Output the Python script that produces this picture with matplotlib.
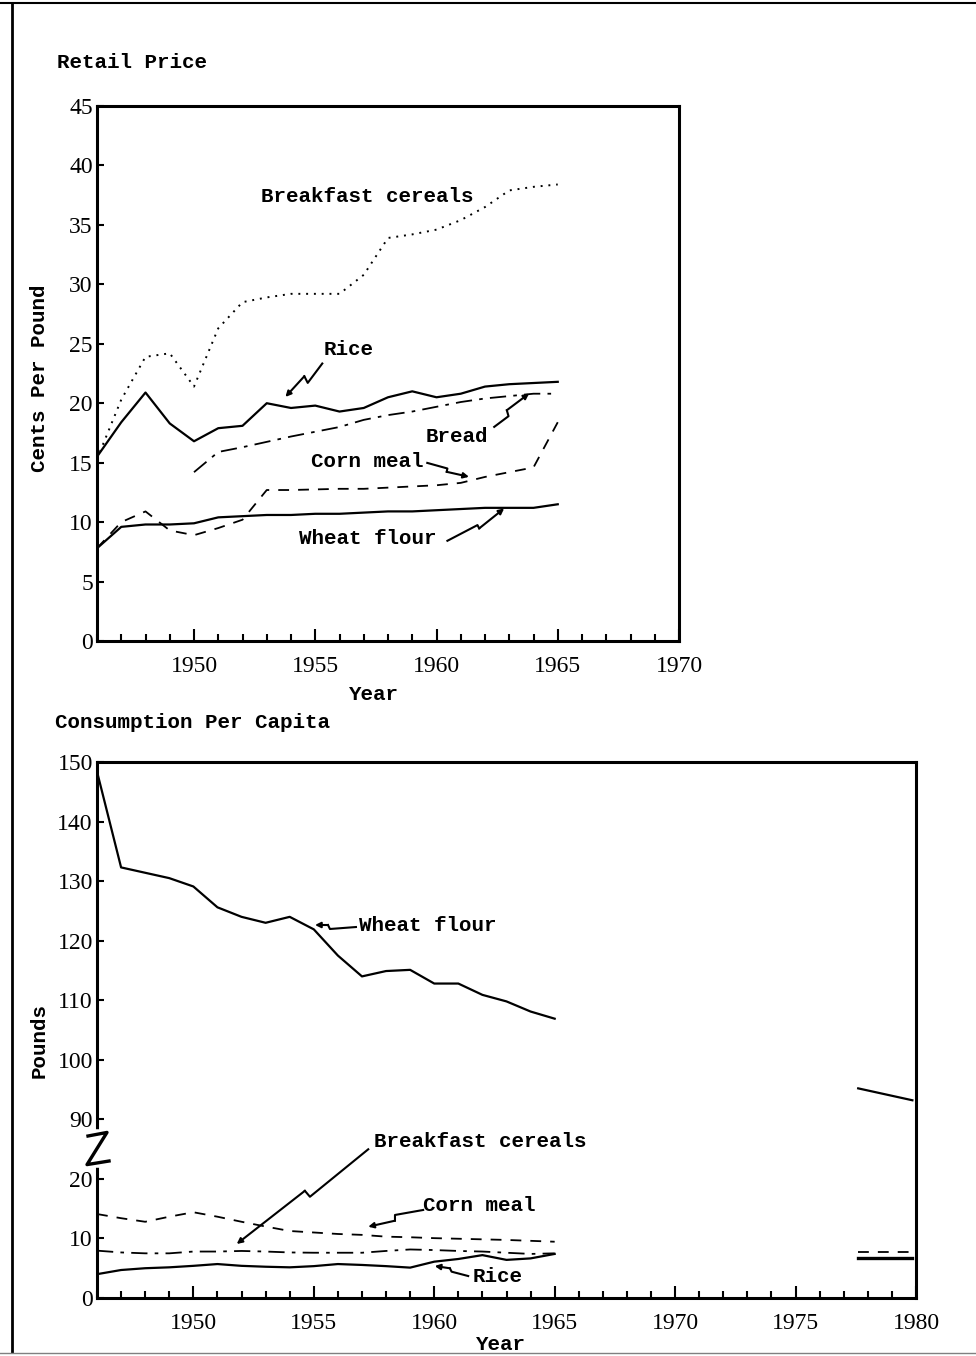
import matplotlib

matplotlib.use("Agg")
import matplotlib.pyplot as plt
import matplotlib.transforms as mtransforms
from matplotlib.lines import Line2D
from matplotlib.ticker import MultipleLocator, FixedLocator

W, H = 976, 1356
plt.rcParams["font.family"] = ["Liberation Serif", "DejaVu Serif"]
LABEL_FONT = dict(family=["Liberation Mono", "DejaVu Sans Mono"], fontweight="bold", fontsize=15)

# Retail price, cents per pound
PRICE_YEARS = list(range(1946, 1966))
PRICE_CEREALS = [15.3, 20.3, 23.9, 24.2, 21.4, 26.3, 28.5, 28.9, 29.2, 29.2,
                 29.2, 30.8, 33.9, 34.2, 34.6, 35.4, 36.5, 37.9, 38.2, 38.4]
PRICE_RICE = [15.5, 18.4, 20.9, 18.3, 16.8, 17.9, 18.1, 20.0, 19.6, 19.8,
              19.3, 19.6, 20.5, 21.0, 20.5, 20.8, 21.4, 21.6, 21.7, 21.8]
PRICE_CORN = [7.8, 10.0, 10.9, 9.3, 8.9, 9.5, 10.2, 12.7, 12.7, 12.75,
              12.8, 12.8, 12.9, 13.0, 13.1, 13.3, 13.8, 14.2, 14.6, 18.4]
PRICE_WHEAT = [7.8, 9.6, 9.8, 9.8, 9.9, 10.4, 10.5, 10.6, 10.6, 10.7,
               10.7, 10.8, 10.9, 10.9, 11.0, 11.1, 11.2, 11.2, 11.2, 11.5]
BREAD_YEARS = list(range(1950, 1966))
PRICE_BREAD = [14.2, 15.9, 16.3, 16.75, 17.2, 17.6, 18.0, 18.6, 19.0, 19.3,
               19.7, 20.1, 20.4, 20.6, 20.8, 20.8]

# Consumption per capita, pounds
CONS_YEARS = list(range(1946, 1966))
CONS_WHEAT = [148.4, 132.3, 131.4, 130.5, 129.1, 125.6, 124.0, 123.0, 124.0, 121.9,
              117.5, 114.0, 114.9, 115.1, 112.8, 112.8, 110.9, 109.8, 108.1, 106.9]
CONS_CORN = [14.1, 13.4, 12.8, 13.65, 14.4, 13.65, 12.8, 12.0, 11.25, 11.0,
             10.75, 10.6, 10.3, 10.2, 10.05, 9.95, 9.85, 9.75, 9.6, 9.45]
CONS_CEREALS = [7.95, 7.65, 7.5, 7.5, 7.8, 7.8, 7.9, 7.8, 7.65, 7.6,
                7.6, 7.6, 7.9, 8.15, 8.05, 7.9, 7.8, 7.6, 7.4, 7.5]
CONS_RICE = [4.0, 4.7, 5.0, 5.15, 5.4, 5.7, 5.4, 5.25, 5.15, 5.35,
             5.7, 5.55, 5.35, 5.1, 6.1, 6.55, 7.2, 6.4, 6.65, 7.4]
PROJ_YEARS = [1977.6, 1979.85]
PROJ_WHEAT = [95.2, 93.2]
PROJ_CORN = [7.7, 7.7]
PROJ_RICE = [6.7, 6.7]

CONS_TICKS = [0, 10, 20, 90, 100, 110, 120, 130, 140, 150]
CUT = 60  # pounds removed by the axis break (20 -> 90 shown as 20 -> 30)


def broken(values):
    return [v - CUT if v > 50 else v for v in values]


# label text position (year, value) and lightning leader (years, values)
PRICE_NOTES = [
    ("Breakfast cereals", 1957.16, 37.4, None),
    ("Rice", 1956.37, 24.5, ([1955.29, 1954.69, 1954.55, 1953.77], [23.34, 21.71, 22.27, 20.53])),
    ("Bread", 1960.83, 17.17, ([1962.38, 1962.97, 1962.90, 1963.82], [18.01, 18.91, 19.41, 20.82])),
    ("Corn meal", 1957.14, 15.07, ([1959.62, 1960.45, 1960.42, 1961.34], [14.98, 14.51, 14.23, 13.81])),
    ("Wheat flour", 1957.18, 8.63, ([1960.45, 1961.69, 1961.76, 1962.79], [8.43, 9.75, 9.47, 11.15])),
]
CONS_NOTES = [
    ("Wheat flour", 1959.73, 62.5, ([1956.75, 1955.67, 1955.59, 1955.05], [62.29, 61.96, 62.63, 62.63])),
    ("Breakfast cereals", 1961.89, 26.25, ([1957.26, 1954.84, 1954.63, 1951.80], [24.97, 17.0, 18.0, 9.07])),
    ("Corn meal", 1961.85, 15.6, ([1959.54, 1958.37, 1958.37, 1957.26], [14.78, 13.94, 12.98, 11.97])),
    ("Rice", 1962.62, 3.58, ([1961.41, 1960.72, 1960.65, 1960.02], [3.69, 4.42, 4.99, 5.37])),
]

SOLID = dict(color="black", lw=1.6, linestyle="-")
DOTTED = dict(color="black", lw=1.4, linestyle=(0, (1, 3)))
DASHED = dict(color="black", lw=1.3, linestyle=(0, (6, 5)))
DASHDOT = dict(color="black", lw=1.3, linestyle=(0, (9, 4, 2, 4)))


def px(x, y):
    return x / W, 1 - y / H


def style_axes(ax):
    for sp in ax.spines.values():
        sp.set_linewidth(2.2)
    ax.xaxis.set_minor_locator(MultipleLocator(1))
    ax.xaxis.set_major_locator(MultipleLocator(5))
    ax.tick_params(axis="x", which="major", direction="in", length=9, width=1.5,
                   pad=11, labelsize=17, top=False)
    ax.tick_params(axis="x", which="minor", direction="in", length=5, width=1.5, top=False)
    ax.tick_params(axis="y", which="major", direction="in", length=5, width=1.5,
                   pad=3, labelsize=17, right=False)


def add_notes(ax, notes):
    for text, tx, ty, leader in notes:
        ax.text(tx, ty, text, ha="center", va="center", **LABEL_FONT)
        if leader is None:
            continue
        xs, ys = leader
        ax.plot(xs[:-1], ys[:-1], color="black", lw=1.5)
        ax.annotate("", xy=(xs[-1], ys[-1]), xytext=(xs[-2], ys[-2]),
                    arrowprops=dict(arrowstyle="-|>", color="black", lw=1.5,
                                    mutation_scale=8, shrinkA=0, shrinkB=0))


fig = plt.figure(figsize=(W / 100, H / 100), dpi=100)

# ---- Retail price ----
ax1 = fig.add_axes([97 / W, 1 - 641 / H, (679 - 97) / W, (641 - 106) / H])
ax1.plot(PRICE_YEARS, PRICE_CEREALS, **DOTTED)
ax1.plot(PRICE_YEARS, PRICE_RICE, **SOLID)
ax1.plot(BREAD_YEARS, PRICE_BREAD, **DASHDOT)
ax1.plot(PRICE_YEARS, PRICE_CORN, **DASHED)
ax1.plot(PRICE_YEARS, PRICE_WHEAT, **SOLID)
ax1.set_xlim(1946, 1970)
ax1.set_ylim(0, 45)
ax1.yaxis.set_major_locator(MultipleLocator(5))
style_axes(ax1)
ax1.set_xticks([1950, 1955, 1960, 1965, 1970])
add_notes(ax1, PRICE_NOTES)

# ---- Consumption per capita ----
ax2 = fig.add_axes([97 / W, 1 - 1298 / H, (916 - 97) / W, (1298 - 762) / H])
ax2.plot(CONS_YEARS, broken(CONS_WHEAT), **SOLID)
ax2.plot(CONS_YEARS, CONS_CORN, **DASHED)
ax2.plot(CONS_YEARS, CONS_CEREALS, **DASHDOT)
ax2.plot(CONS_YEARS, CONS_RICE, **SOLID)
ax2.plot(PROJ_YEARS, broken(PROJ_WHEAT), **SOLID)
ax2.plot(PROJ_YEARS, PROJ_CORN, **DASHED)
ax2.plot(PROJ_YEARS, PROJ_RICE, color="black", lw=2.4)
ax2.set_xlim(1946, 1980)
ax2.set_ylim(0, 90)
style_axes(ax2)
ax2.yaxis.set_major_locator(FixedLocator(broken(CONS_TICKS)))
ax2.set_yticklabels([str(v) for v in CONS_TICKS])
add_notes(ax2, CONS_NOTES)

# axis break on the left spine
brk = mtransforms.blended_transform_factory(ax2.transAxes, ax2.transData)
ax2.plot([0, 0], [22.4, 27.8], color="white", lw=4, transform=brk, clip_on=False, zorder=5)
ax2.plot([-0.011, 0.0122, -0.0122, 0.0147], [27.2, 27.8, 22.4, 23.0], color="black",
         lw=2.4, transform=brk, clip_on=False, zorder=6)

# titles and axis labels
fig.text(*px(57, 63), "Retail Price", ha="left", va="center", **LABEL_FONT)
fig.text(*px(55, 722), "Consumption Per Capita", ha="left", va="center", **LABEL_FONT)
fig.text(*px(40, 378), "Cents Per Pound", ha="center", va="center", rotation=90, **LABEL_FONT)
fig.text(*px(39, 1041), "Pounds", ha="center", va="center", rotation=90, **LABEL_FONT)
fig.text(*px(374, 694), "Year", ha="center", va="center", **LABEL_FONT)
fig.text(*px(501, 1344), "Year", ha="center", va="center", **LABEL_FONT)

# scanned page frame
fig.add_artist(Line2D([12 / W, 12 / W], [1 - 4 / H, 1 - 1352 / H], transform=fig.transFigure,
                      color="black", lw=2))
fig.add_artist(Line2D([0, 1], [1 - 3 / H, 1 - 3 / H], transform=fig.transFigure,
                      color="black", lw=1.5))
fig.add_artist(Line2D([0, 1], [1 - 1353 / H, 1 - 1353 / H], transform=fig.transFigure,
                      color="0.5", lw=1))

fig.savefig("out.png", dpi=100)
